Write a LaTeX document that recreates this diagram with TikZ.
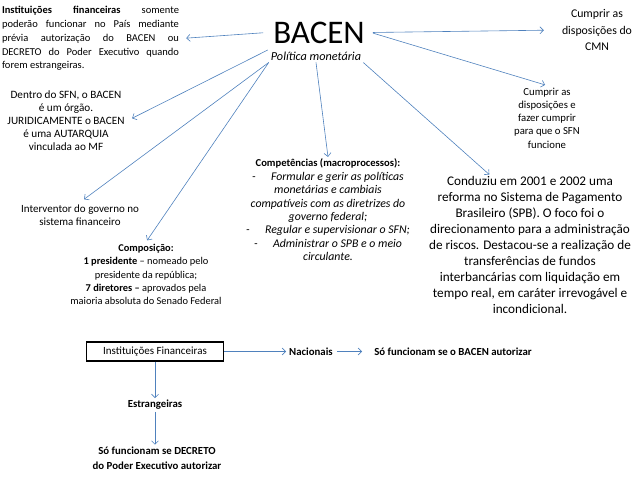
\documentclass[tikz,border=0pt]{standalone}
\usepackage{fontspec}
\setmainfont{Carlito}
\usetikzlibrary{arrows.meta}
\definecolor{linkblue}{RGB}{79,129,189}

\begin{document}
\begin{tikzpicture}[x=1pt,y=-1pt,
	txt/.style={align=center,inner sep=2pt,font=\fontsize{11}{13.3}\selectfont},
	bld/.style={align=center,inner sep=2pt,font=\fontsize{10.8}{14.5}\selectfont\bfseries},
	arr/.style={color=linkblue,line width=0.6pt,-{Straight Barb[length=3.5pt,width=7pt]}}]

	\useasboundingbox (0,0) rectangle (638,479);

	\node[inner sep=6pt,font=\fontsize{33}{33}\selectfont] (bacen) at (319,32.5) {BACEN};
	\node[txt,font=\fontsize{12.2}{13}\selectfont\itshape] (pol) at (316,56) {Política monetária};

	\node[txt,align=justify,text width=177pt,font=\fontsize{10.5}{13.75}\selectfont] (tl) at (90.5,38.5)
		{\textbf{Instituições financeiras} somente\linebreak poderão funcionar no País mediante\linebreak
		prévia autorização do BACEN ou\linebreak DECRETO do Poder Executivo quando\linebreak forem estrangeiras.};
	\node[txt,font=\fontsize{11.8}{16.5}\selectfont] (cmn) at (597,30) {Cumprir as\\disposições do\\CMN};
	\node[txt,font=\fontsize{10.7}{13.3}\selectfont] (fazer) at (547,118) {Cumprir as\\disposições e\\fazer cumprir\\para que o SFN\\funcione};
	\node[txt,font=\fontsize{11.2}{13}\selectfont] (dentro) at (66,121) {Dentro do SFN, o BACEN\\é um órgão.\\JURIDICAMENTE o BACEN\\é uma AUTARQUIA\\vinculada ao MF};
	\node[txt] (interv) at (80,215) {Interventor do governo no\\sistema financeiro};
	\node[txt,font=\fontsize{11.8}{13.4}\selectfont\itshape] (comp) at (328,210) {{\fontsize{10.6}{13.4}\selectfont\upshape\bfseries Competências (macroprocessos):}\\
		-\hspace{1.3em}Formular e gerir as políticas\\ monetárias e cambiais\\
		compatíveis com as diretrizes do\\ governo federal;\\
		-\hspace{1.3em}Regular e supervisionar o SFN;\\
		-\hspace{1.3em}Administrar o SPB e o meio\\ circulante.};
	\node[txt,font=\fontsize{13.2}{15.9}\selectfont] (spb) at (530,245) {Conduziu em 2001 e 2002 uma\\
		reforma no Sistema de Pagamento\\Brasileiro (SPB). O foco foi o\\direcionamento para a administração\\
		de riscos. Destacou-se a realização de\\transferências de fundos\\interbancárias com liquidação em\\
		tempo real, em caráter irrevogável e\\incondicional.};
	\node[txt,font=\fontsize{10.4}{13.3}\selectfont] (compos) at (146,274.5) {\textbf{Composição:}\\\textbf{1 presidente} -- nomeado pelo\\
		presidente da república;\\\textbf{7 diretores --} aprovados pela\\maioria absoluta do Senado Federal};

	\node[draw=black,line width=1.3pt,minimum width=137pt,minimum height=19pt,font=\fontsize{11}{12}\selectfont] (inst) at (155,351.5) {Instituições Financeiras};
	\node[bld] (nac) at (311,351.5) {Nacionais};
	\node[bld] (sobacen) at (453,351.5) {Só funcionam se o BACEN autorizar};
	\node[bld] (estr) at (155,405) {Estrangeiras};
	\node[bld] (sodec) at (157,458) {Só funcionam se DECRETO\\do Poder Executivo autorizar};

	\draw[arr,shorten <=4pt,shorten >=5pt] (bacen.west) -- (tl.east);
	\draw[arr,shorten <=2pt,shorten >=16pt] (bacen.east) -- (cmn.west);
	\draw[arr,shorten <=2pt,shorten >=2pt] (bacen.east) -- (fazer.north);
	\draw[arr,shorten <=1pt,shorten >=6pt] (pol.north west) -- (dentro.east);
	\draw[arr,shorten >=5pt] (pol.south west) -- (interv.north);
	\draw[arr,shorten >=2pt] (pol.south west) -- (compos.north);
	\draw[arr] (pol.south) -- (comp.north);
	\draw[arr] (pol.south east) -- (spb.120);
	\draw[arr,shorten >=1pt] (inst.east) -- (nac.west);
	\draw[arr,shorten <=2pt,shorten >=10pt] (nac.east) -- (sobacen.west);
	\draw[arr] (inst.south) -- (inst.south |- estr.north);
	\draw[arr] (estr.south) -- (estr.south |- sodec.north);

\end{tikzpicture}
\end{document}
